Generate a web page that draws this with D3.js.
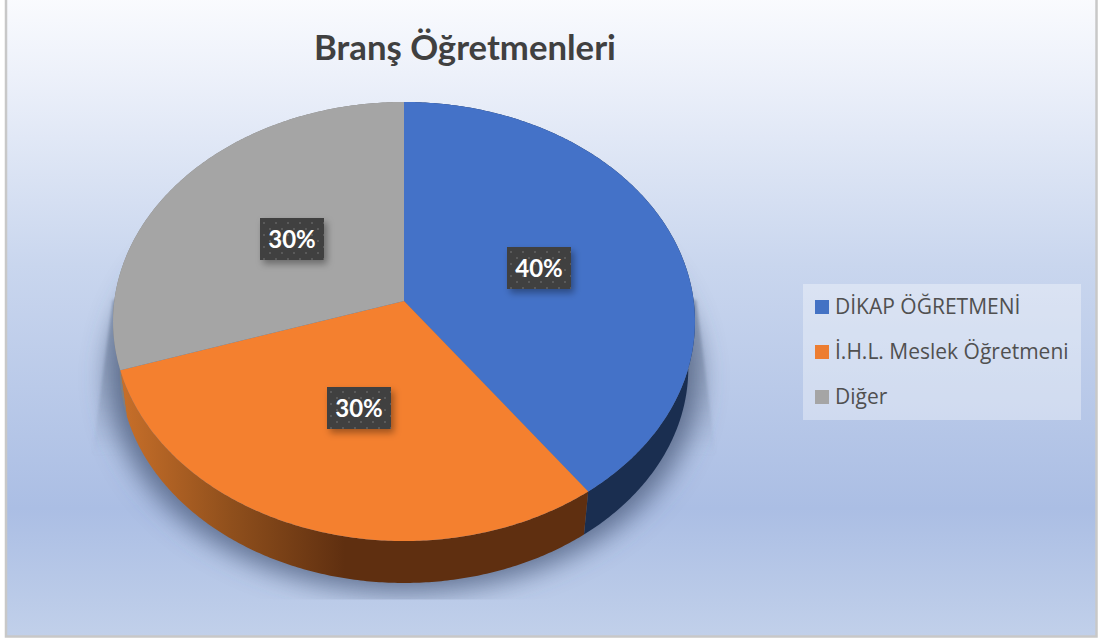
<!DOCTYPE html>
<meta charset="utf-8">
<style>
body { margin: 0; background: #fff; }
svg { display: block; }
.title { font: bold 34.7px Lato, sans-serif; fill: #404040; }
.legend text { font: 21px "Open Sans", sans-serif; fill: #505050; }
.lab text { font: bold 24px Lato, sans-serif; fill: #fff; }
</style>
<svg width="1099" height="640"></svg>
<script src="https://d3js.org/d3.v7.min.js"></script>
<script>

var categories = ["DİKAP ÖĞRETMENİ", "İ.H.L. Meslek Öğretmeni", "Diğer"];
var values = [40, 30, 30];
var topColors = ["#4472c8", "#f4802f", "#a5a5a5"];
var swatchColors = ["#4472c4", "#ed7d31", "#a5a5a5"];
var wallColors = ["#1a2e50", "url(#wallOrange)", "#7f7f7f"];

var svg = d3.select("svg");
var defs = svg.append("defs");

function grad(id, x1, y1, x2, y2, stops, user) {
  var g = defs.append("linearGradient").attr("id", id)
    .attr("x1", x1).attr("y1", y1).attr("x2", x2).attr("y2", y2);
  if (user) g.attr("gradientUnits", "userSpaceOnUse");
  stops.forEach(function(s) {
    g.append("stop").attr("offset", s[0]).attr("stop-color", s[1]).attr("stop-opacity", s[2] == null ? 1 : s[2]);
  });
}

grad("bg", 0, 0, 0, 1, [[0, "#fafbfe"], [0.12, "#edf1fa"], [0.42, "#c9d6ee"], [0.8, "#abbee4"], [1, "#c1d0ea"]]);
grad("wallOrange", 118, 0, 345, 0, [[0, "#c9702a"], [0.5, "#8f4f1c"], [1, "#5f2f10"]], true);
grad("wedge", 0, 300, 0, 455, [[0, "#6a7b96", 0.65], [1, "#6a7b96", 0]], true);

defs.append("filter").attr("id", "blur").attr("x", "-20%").attr("y", "-20%").attr("width", "140%").attr("height", "140%")
  .append("feGaussianBlur").attr("stdDeviation", 13);
defs.append("filter").attr("id", "blurSmall").attr("x", "-30%").attr("y", "-10%").attr("width", "160%").attr("height", "120%")
  .append("feGaussianBlur").attr("stdDeviation", 1.5);
defs.append("filter").attr("id", "labShadow").attr("x", "-30%").attr("y", "-30%").attr("width", "170%").attr("height", "180%")
  .append("feDropShadow").attr("dx", 3).attr("dy", 4).attr("stdDeviation", 3.5).attr("flood-color", "#000").attr("flood-opacity", 0.35);

var pat = defs.append("pattern").attr("id", "dots").attr("width", 12).attr("height", 12).attr("patternUnits", "userSpaceOnUse");
pat.append("rect").attr("width", 12).attr("height", 12).attr("fill", "#3f3f3f");
pat.append("rect").attr("x", 1).attr("y", 1).attr("width", 2).attr("height", 2).attr("fill", "#5a5a5a");
pat.append("rect").attr("x", 7).attr("y", 7).attr("width", 2).attr("height", 2).attr("fill", "#5a5a5a");

defs.append("clipPath").attr("id", "floor").append("rect").attr("width", 1099).attr("height", 599.5);

// chart area
svg.append("rect").attr("x", 6).attr("y", -3).attr("width", 1090.5).attr("height", 639.5)
  .attr("fill", "url(#bg)").attr("stroke", "#c8c8c8").attr("stroke-width", 2.5);

svg.append("text").attr("class", "title").attr("x", 465).attr("y", 60).attr("text-anchor", "middle").text("Branş Öğretmenleri");

// tilted disc: unit circle seen in perspective, bottom face is a smaller copy lower down
var persp = -0.0934;
var topDisc = {scale: 1, dy: 0};
var botDisc = {scale: 0.977, dy: 54.4};

function proj(d, ang, r) {
  var u = r * Math.sin(ang), v = -r * Math.cos(ang), w = 1 + persp * v;
  return [404 + d.scale * 289.7 * u / w, d.dy + d.scale * (189.5 * v + 301) / w];
}

var line = d3.line();
var arcs = d3.pie().sort(null)(values);

function samples(a0, a1) {
  var n = Math.ceil((a1 - a0) / 0.01);
  return d3.range(n + 1).map(function(i) { return a0 + (a1 - a0) * i / n; });
}

// floor shadow
var shadow = svg.append("g").attr("clip-path", "url(#floor)");
shadow.append("path").attr("filter", "url(#blurSmall)")
  .attr("d", line([[113, 300], [92, 455], [150, 480], [660, 480], [716, 455], [696, 300]]) + "Z")
  .attr("fill", "url(#wedge)");
shadow.append("path").attr("filter", "url(#blur)")
  .attr("d", line(samples(0, 2 * Math.PI).map(function(a) {
    var p = proj(botDisc, a, 1);
    return [404 + (p[0] - 404) * 1.04, p[1] + 9];
  })) + "Z")
  .attr("fill", "#4a5c7c").attr("fill-opacity", 0.78);

// side wall
svg.append("g").selectAll("path").data(arcs).enter().append("path")
  .attr("fill", function(d, i) { return wallColors[i]; })
  .attr("d", function(d) {
    var s = samples(d.startAngle, d.endAngle);
    var upper = s.map(function(a) { return proj(topDisc, a, 1); });
    var lower = s.slice().reverse().map(function(a) { return proj(botDisc, a, 1); });
    return line(upper.concat(lower)) + "Z";
  });

// top face
svg.append("g").selectAll("path").data(arcs).enter().append("path")
  .attr("fill", function(d, i) { return topColors[i]; })
  .attr("d", function(d) {
    var s = samples(d.startAngle, d.endAngle).map(function(a) { return proj(topDisc, a, 1); });
    return line([proj(topDisc, 0, 0)].concat(s)) + "Z";
  });

// data labels
var total = d3.sum(values);
var lab = svg.append("g").attr("class", "lab").selectAll("g").data(arcs).enter().append("g")
  .attr("transform", function(d) {
    var p = proj(topDisc, (d.startAngle + d.endAngle) / 2, 0.495);
    return "translate(" + (Math.round(p[0]) + 1) + "," + Math.round(p[1]) + ")";
  });
lab.append("rect").attr("x", -32).attr("y", -21).attr("width", 64).attr("height", 42)
  .attr("fill", "url(#dots)").attr("filter", "url(#labShadow)");
lab.append("text").attr("text-anchor", "middle").attr("y", 9)
  .text(function(d) { return d3.format(".0%")(d.value / total); });

// legend
var legend = svg.append("g").attr("class", "legend");
legend.append("rect").attr("x", 803).attr("y", 284).attr("width", 278).attr("height", 136)
  .attr("fill", "#fff").attr("fill-opacity", 0.35);
var y = d3.scalePoint().domain(categories).range([307, 397]);
var item = legend.selectAll("g").data(categories).enter().append("g")
  .attr("transform", function(d) { return "translate(815," + y(d) + ")"; });
item.append("rect").attr("y", -7).attr("width", 14).attr("height", 14)
  .attr("fill", function(d, i) { return swatchColors[i]; });
item.append("text").attr("x", 20).attr("y", 7).text(function(d) { return d; });

</script>
